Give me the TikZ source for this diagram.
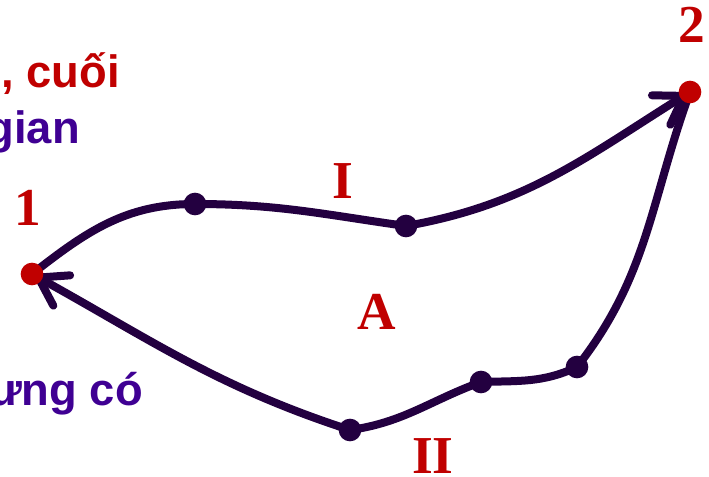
\documentclass[tikz,border=0pt]{standalone}
\usepackage{fontspec}
\setmainfont{Liberation Serif}
\setsansfont{Liberation Sans}
\usetikzlibrary{arrows.meta}
\definecolor{cred}{HTML}{C00000}
\definecolor{cpurple}{HTML}{3F0093}
\definecolor{cline}{HTML}{230040}
\begin{document}
\begin{tikzpicture}[x=0.75pt,y=0.75pt,
  curve/.style={draw=cline,line width=6pt,line cap=round},
  arr/.style={-{Straight Barb[length=20pt,width=26pt,line cap=round]}},
  dot/.style={circle,fill=cline,minimum size=17pt,inner sep=0pt},
  rdot/.style={dot,fill=cred},
  lbl/.style={text=cred,font=\bfseries\fontsize{40}{40}\selectfont,inner sep=0pt},
  side/.style={font=\sffamily\bfseries\fontsize{34}{34}\selectfont,inner sep=0pt,anchor=base east}]
\useasboundingbox (0,0) rectangle (709,476);
% points
\coordinate (p1) at (32,202);
\coordinate (p2) at (690,384);
\coordinate (a) at (195,272);
\coordinate (b) at (406,250);
\coordinate (c) at (350,46);
\coordinate (d) at (481,94);
\coordinate (e) at (577,109);
% path I
\draw[curve,arr] (p1) to[out=38,in=180] (a) to[out=0,in=172] (b) to[out=10,in=-148] (p2);
% path II
\draw[curve,arr] (p2) to[out=-110,in=52] (e) to[out=205,in=2] (d) to[out=200,in=8] (c) to[out=162,in=-29] (p1);
% dots
\node[dot] (na) at (a) {};
\node[dot] (nb) at (b) {};
\node[dot] (nc) at (c) {};
\node[dot] (nd) at (d) {};
\node[dot] (ne) at (e) {};
\node[rdot] (n1) at (p1) {};
\node[rdot] (n2) at (p2) {};
% labels
\node[lbl] (l1) at (28,268) {1};
\node[lbl] (l2) at (692,451) {2};
\node[lbl] (lI) at (343,295) {I};
\node[lbl] (lA) at (377,164) {A};
\node[lbl] (lII) at (433,20) {II};
% side texts
\node[side,text=cred] (t1) at (120,389) {, cuối};
\node[side,text=cpurple] (t2) at (80,333) {gian};
\node[side,text=cpurple] (t3) at (143,71) {ưng có};
\end{tikzpicture}
\end{document}
